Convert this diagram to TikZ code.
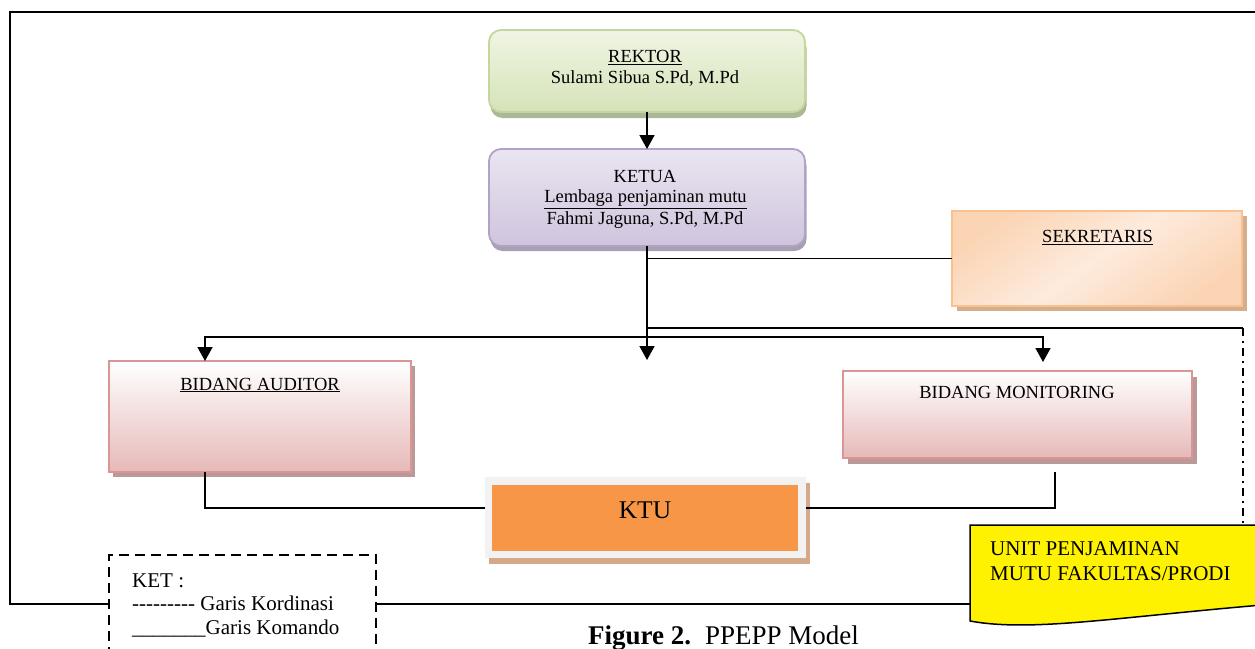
\documentclass[tikz,border=0pt]{standalone}
\usepackage{fontspec}
\setmainfont{Liberation Serif}
\usetikzlibrary{arrows.meta,shadows,calc}
\definecolor{grtop}{HTML}{F0F5E4}
\definecolor{grbot}{HTML}{D5E3B8}
\definecolor{grbd}{HTML}{C3D69B}
\definecolor{grsh}{HTML}{AAB897}
\definecolor{pptop}{HTML}{EAE5F1}
\definecolor{ppbot}{HTML}{CFC4DD}
\definecolor{ppbd}{HTML}{B3A2C7}
\definecolor{ppsh}{HTML}{A79FB2}
\definecolor{rsbot}{HTML}{E6B9B8}
\definecolor{rsbd}{HTML}{D99694}
\definecolor{rssh}{HTML}{BB9999}
\definecolor{pcdark}{HTML}{FBD4B4}
\definecolor{pclight}{HTML}{FDEBDD}
\definecolor{pcbd}{HTML}{FAC090}
\definecolor{pcsh}{HTML}{D5AE8E}
\definecolor{ktuor}{HTML}{F79646}
\definecolor{ktufr}{HTML}{F2F2F2}
\definecolor{ktush}{HTML}{D4A888}
\newcommand\bxf{\fontsize{18.5}{21}\selectfont}
\newcommand\lgf{\fontsize{21}{23}\selectfont}
\newcommand\hy{\mbox{-}}
\begin{document}
\begin{tikzpicture}[x=1pt,y=-1pt,
  boxbase/.style={inner sep=0pt, outer sep=0pt},
  rbox/.style={boxbase, rounded corners=12pt, line width=1.8pt},
  sqbox/.style={boxbase, line width=1.8pt},
  txt/.style={inner sep=0pt, anchor=base, font=\bxf},
  ltxt/.style={inner sep=0pt, anchor=base west, font=\lgf},
  conn/.style={line width=1.6pt, black},
  arr/.style={conn, -{Triangle[width=15pt,length=14pt]}},
  coord/.style={line width=1.3pt, black},
  dashdot/.style={line width=1.6pt, dash pattern=on 8pt off 5pt on 2pt off 5pt},
  framel/.style={line width=2pt, black}
]
\useasboundingbox (0,0) rectangle (1255,648);

% REKTOR
\node[rbox, draw=grbd, top color=grtop, bottom color=grbot,
  minimum width=316, minimum height=82,
  drop shadow={shadow xshift=1.5pt, shadow yshift=-6pt, fill=grsh, opacity=1}]
  (rektor) at (647,71) {};
\node[txt] (rektor1) at (645,62.7) {\underline{REKTOR}};
\node[txt] (rektor2) at (645,83.3) {Sulami Sibua S.Pd, M.Pd};

% KETUA
\node[rbox, draw=ppbd, top color=pptop, bottom color=ppbot,
  minimum width=316, minimum height=97,
  drop shadow={shadow xshift=1.5pt, shadow yshift=-5pt, fill=ppsh, opacity=1}]
  (ketua) at (647,197.5) {};
\node[txt] (ketua1) at (645,182.7) {KETUA};
\node[txt] (ketua2) at (645.5,202.7) {\underline{Lembaga penjaminan mutu}};
\node[txt] (ketua3) at (645,224) {Fahmi Jaguna, S.Pd, M.Pd};

% SEKRETARIS
\node[sqbox, draw=pcbd, top color=pcdark, bottom color=pcdark, middle color=pclight,
  shading angle=35, minimum width=290, minimum height=95,
  drop shadow={shadow xshift=5pt, shadow yshift=-5pt, fill=pcsh, opacity=1}]
  (sek) at (1097,258.5) {};
\node[txt] (sekT) at (1097.5,242.7) {\underline{SEKRETARIS}};

% BIDANG AUDITOR
\node[sqbox, draw=rsbd, top color=white, bottom color=rsbot,
  minimum width=302, minimum height=111,
  drop shadow={shadow xshift=4pt, shadow yshift=-5pt, fill=rssh, opacity=1}]
  (aud) at (260,416.5) {};
\node[txt] (audT) at (260,390) {\underline{BIDANG AUDITOR}};

% BIDANG MONITORING
\node[sqbox, draw=rsbd, top color=white, bottom color=rsbot,
  minimum width=349, minimum height=87,
  drop shadow={shadow xshift=5pt, shadow yshift=-6pt, fill=rssh, opacity=1}]
  (mon) at (1017.5,414.5) {};
\node[txt] (monT) at (1017,398.3) {BIDANG MONITORING};

% KTU
\node[boxbase, fill=ktufr, minimum width=321, minimum height=81,
  drop shadow={shadow xshift=4pt, shadow yshift=-6pt, fill=ktush, opacity=1}]
  (ktuf) at (645.5,517.5) {};
\node[boxbase, fill=ktuor, minimum width=306, minimum height=66] (ktu) at (645,518) {};
\node[inner sep=0pt, anchor=base, font=\fontsize{25.5}{28}\selectfont] (ktuT) at (645,518.3) {KTU};

% UNIT (document shape)
\node[boxbase, minimum width=292, minimum height=97, anchor=north west] (unit) at (970,525) {};
\draw[line width=1.5pt, fill=yellow] (unit.north east) -- (unit.north west) -- (970,621)
  .. controls (1030,632) and (1110,618) .. (1262,605) -- cycle;
\node[ltxt] (unit1) at (990,555) {UNIT PENJAMINAN};
\node[ltxt] (unit2) at (990,580) {MUTU FAKULTAS/PRODI};

% Legend
\node[boxbase, draw, fill=white, line width=2.5pt, dash pattern=on 10pt off 6pt,
  minimum width=267, minimum height=110, anchor=north west] (ket) at (109,555) {};
\node[ltxt] (ket1) at (132,587) {KET :};
\node[ltxt] (ket2) at (132,610.5) {\hy\hy\hy\hy\hy\hy\hy\hy\hy\ Garis Kordinasi};
\node[ltxt] (ket3) at (132,634) {\_\_\_\_\_\_\_Garis Komando};

% Caption
\node[inner sep=0pt, anchor=base west, font=\fontsize{27}{30}\selectfont] (cap) at (588,644)
  {\textbf{Figure 2.}\hspace{14pt}PPEPP Model};

% coordinates
\coordinate (hub) at (647,337);
\coordinate (cEnd) at (647,360);
\coordinate (audIn) at (205,361);
\coordinate (monIn) at (1043,362);
\coordinate (audOut) at (205,472);
\coordinate (monOut) at (1055,472);
\coordinate (ky) at (0,508);
\coordinate (cy) at (0,328);
\coordinate (cc) at (1243,328);
\coordinate (fy) at (0,604);

% connectors
\draw[arr] (rektor.south) -- (ketua.north);
\draw[arr] (ketua.south) -- (cEnd);
\draw[conn] (ketua.south |- sek.west) -- (sek.west);
\draw[arr] (hub) -| (audIn);
\draw[arr] (hub) -| (monIn);
\draw[conn] (audOut) |- (ktuf.west |- ky);
\draw[conn] (ktuf.east |- ky) -| (monOut);
\draw[coord] (ketua.south |- cy) -- (cc);
\draw[dashdot] (cc) -- (cc |- unit.north);

% frame
\draw[framel] (ket.west |- fy) -- (10,604) -- (10,12) -- (1262,12);
\draw[framel] (ket.east |- fy) -- (unit.west |- fy);
\end{tikzpicture}
\end{document}
